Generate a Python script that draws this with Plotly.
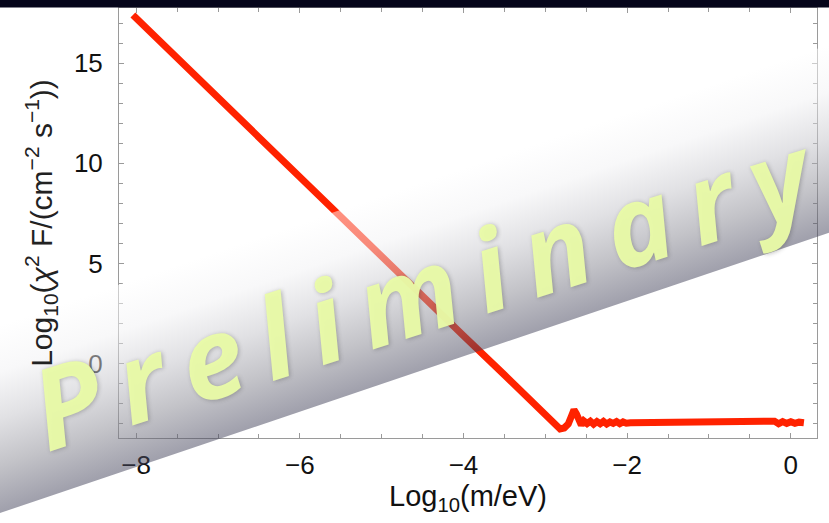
import base64
import plotly.graph_objects as go

# ---- data ----
log_m = [-8.04, -7.5, -7.0, -6.5, -6.0, -5.5, -5.0, -4.5, -4.0, -3.5, -3.25, -3.05,
         -2.95, -2.88, -2.82, -2.77, -2.72, -2.68, -2.65, -2.62, -2.59, -2.56, -2.53,
         -2.49, -2.45, -2.41, -2.37, -2.33, -2.29, -2.25, -2.21, -2.17, -2.13, -2.09,
         -2.05, -2.01, -1.96, -1.5, -1.0, -0.5, -0.25, -0.2, -0.15, -0.1, -0.05,
         0.0, 0.05, 0.10, 0.16]
log_flux = [17.4, 15.25, 13.3, 11.3, 9.3, 7.35, 5.4, 3.4, 1.4, -0.55, -1.55, -2.35,
            -2.8, -3.1, -3.25, -3.2, -3.0, -2.6, -2.3, -2.5, -2.85, -3.05, -2.85,
            -2.98, -2.86, -3.01, -2.88, -2.99, -2.87, -3.0, -2.9, -2.97, -2.88, -2.99,
            -2.9, -2.96, -2.94, -2.94, -2.94, -2.94, -2.93, -2.86, -2.99, -2.88, -2.97,
            -2.89, -2.97, -2.91, -2.94]

x_tickvals = [-8, -6, -4, -2, 0]
x_ticktext = ["\u22128", "\u22126", "\u22124", "\u22122", "0"]
y_tickvals = [0, 5, 10, 15]
y_ticktext = ["0", "5", "10", "15"]

x_title = "Log<sub>10</sub>(m/eV)"
y_title = "Log<sub>10</sub>(<i>\u03c7</i><sup>2</sup> F/(cm<sup>\u22122</sup> s<sup>\u22121</sup>))"
watermark = "Preliminary"

# ---- figure ----
W, H = 829, 523
L, R, T, B = 119, 12, 8, 85
PW, PH = W - L - R, H - T - B


def px(xp):
    return (xp - L) / PW


def py(yp):
    return (H - B - yp) / PH


fig = go.Figure()
fig.add_trace(go.Scatter(x=log_m, y=log_flux, mode="lines",
                         line=dict(color="#ff2200", width=7),
                         hoverinfo="skip", showlegend=False))

FONT = "Liberation Sans, Arial, sans-serif"
axis_common = dict(
    showgrid=False, zeroline=False, showline=True, linecolor="#9a9a9a", linewidth=1,
    mirror="allticks", ticks="inside", ticklen=5, tickcolor="#9a9a9a", tickwidth=1,
    tickfont=dict(family=FONT, size=26, color="#111"), automargin=False,
)

fig.update_xaxes(range=[-8.21, 0.32], tickmode="array", tickvals=x_tickvals,
                 ticktext=x_ticktext, ticklabelstandoff=4,
                 minor=dict(dtick=0.5, ticks="inside", ticklen=4, tickcolor="#9a9a9a"),
                 title=dict(text=x_title, standoff=4,
                            font=dict(family=FONT, size=29, color="#111")),
                 **axis_common)
fig.update_yaxes(range=[-3.7, 17.75], tickmode="array", tickvals=y_tickvals,
                 ticktext=y_ticktext, ticklabelstandoff=10,
                 minor=dict(dtick=1, ticks="inside", ticklen=4, tickcolor="#9a9a9a"),
                 title=dict(text=y_title, standoff=12,
                            font=dict(family=FONT, size=30, color="#222")),
                 **axis_common)

# dark strip along the top of the picture
fig.add_shape(type="rect", xref="paper", yref="paper", layer="above",
              x0=px(-5), x1=px(W + 5), y0=py(7.5), y1=py(-5),
              line=dict(width=0), fillcolor="#05051a")

# diagonal gradient band, drawn as a decorative svg overlay
svg = """<svg xmlns='http://www.w3.org/2000/svg' width='829' height='523' viewBox='0 0 829 523' preserveAspectRatio='none'>
<defs><linearGradient id='g' gradientUnits='userSpaceOnUse' x1='0' y1='325' x2='57' y2='493.6'>
<stop offset='0' stop-color='rgb(255,255,255)'/>
<stop offset='0.25' stop-color='rgb(241,241,243)'/>
<stop offset='0.5' stop-color='rgb(195,195,201)'/>
<stop offset='0.75' stop-color='rgb(135,135,145)'/>
<stop offset='1' stop-color='rgb(65,65,89)'/>
</linearGradient></defs>
<polygon points='-10,328.4 839,41.4 839,229.4 -10,516.4' fill='url(#g)' fill-opacity='0.5'/>
</svg>"""
src = "data:image/svg+xml;base64," + base64.b64encode(svg.encode()).decode()
fig.add_layout_image(source=src, xref="paper", yref="paper", x=px(0), y=py(0),
                     sizex=W / PW, sizey=H / PH, sizing="stretch", layer="above",
                     xanchor="left", yanchor="top")

fig.add_annotation(
    xref="paper", yref="paper", x=px(428), y=py(286), xanchor="center", yanchor="middle",
    text='<span style="letter-spacing:19px">' + watermark + "</span>",
    textangle=-17.5, showarrow=False,
    font=dict(family="Open Sans, Noto Sans, sans-serif", size=112,
              color="rgba(234,252,168,0.95)",
              style="italic", weight="bold", shadow="1px 1px 4px rgba(60,60,60,0.35)"),
)

fig.update_layout(width=W, height=H, margin=dict(l=L, r=R, t=T, b=B, autoexpand=False),
                  paper_bgcolor="white", plot_bgcolor="white")

fig.write_html("out.html", config={"displayModeBar": False},
               post_script="document.body.style.margin='0';document.body.style.padding='0';")
